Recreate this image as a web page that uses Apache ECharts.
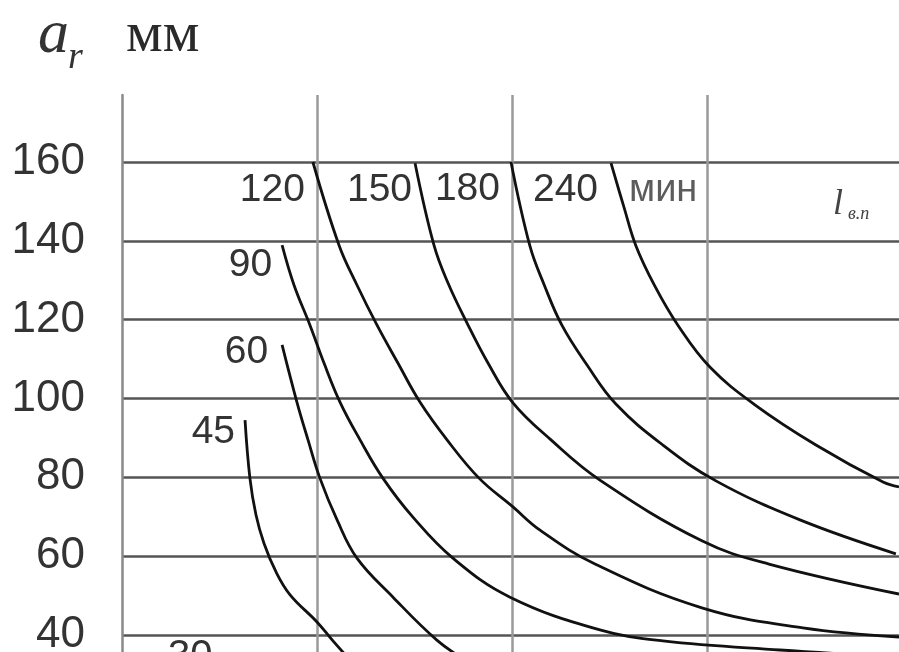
<!DOCTYPE html>
<html>
<head>
<meta charset="utf-8">
<script src="https://cdn.jsdelivr.net/npm/echarts@6/dist/echarts.min.js"></script>
<style>
  html, body { margin: 0; padding: 0; background: #fff; }
  #chart { width: 899px; height: 652px; }
</style>
</head>
<body>
<div id="chart"></div>
<script>
// a_r (mm) against l_в.п, one curve per fire-resistance time (minutes)
const yTicks = [40, 60, 80, 100, 120, 140, 160];
const curveNames = ['45', '60', '90', '120', '150', '180', '240'];
const unitText = 'мин';

const curve45 = [[63.1, 94.5], [65.6, 79.8], [68.7, 70.5], [72.8, 63.3], [79.0, 56.0], [86.2, 50.2], [100.0, 43.3], [108.2, 38.5], [116.9, 33.7]];
const curve60 = [[82.1, 113.6], [89.7, 99.1], [95.4, 89.5], [101.5, 79.8], [110.3, 69.2], [120.5, 59.5], [139.0, 49.6], [161.5, 38.7], [175.9, 33.7]];
const curve90 = [[82.1, 138.9], [88.2, 128.8], [96.4, 118.6], [103.6, 109.0], [111.8, 99.1], [122.1, 89.5], [133.8, 79.8], [149.2, 69.9], [169.7, 59.5], [199.0, 49.6], [245.1, 41.3], [277.4, 38.5], [337.4, 36.2], [398.5, 34.4]];
const curve120 = [[97.9, 160.0], [111.3, 138.9], [120.5, 128.8], [130.8, 118.6], [141.5, 109.0], [152.8, 99.1], [166.7, 89.5], [183.1, 79.8], [200.5, 72.5], [214.4, 66.6], [242.6, 58.0], [297.4, 46.9], [349.2, 41.8], [398.5, 39.5]];
const curve150 = [[150.3, 159.7], [160.0, 138.9], [167.2, 129.3], [176.9, 119.2], [187.7, 109.0], [200.5, 98.9], [220.0, 89.5], [245.1, 79.3], [297.4, 63.9], [331.8, 58.0], [398.5, 50.4]];
const curve180 = [[199.5, 160.0], [209.2, 138.7], [216.4, 129.0], [225.6, 118.6], [238.5, 108.5], [253.3, 98.6], [277.4, 88.2], [304.6, 79.1], [347.7, 69.2], [396.9, 60.6]];
const curve240 = [[250.8, 159.7], [257.4, 148.6], [263.6, 138.7], [273.3, 128.5], [285.1, 118.6], [301.5, 108.0], [324.6, 98.4], [355.9, 88.2], [390.3, 78.8], [398.5, 77.6]];

const curves = [curve45, curve60, curve90, curve120, curve150, curve180, curve240];

// label placement next to the upper end of each curve: [distance, vertical offset]
const labelPlacement = [[10, 12], [14, 7], [10, 20], [8, 28], [3, 27], [11, 27], [13, 27]];

const numFont = '"Liberation Sans", Arial, sans-serif';
const serifFont = '"Liberation Serif", "DejaVu Serif", serif';

const series = curves.map(function (pts, i) {
  const data = pts.map(function (p, j) {
    if (j !== 0) return p;
    return {
      value: p,
      label: {
        show: true,
        formatter: curveNames[i],
        position: 'left',
        distance: labelPlacement[i][0],
        offset: [0, labelPlacement[i][1]],
        fontFamily: numFont,
        fontSize: 39,
        color: '#333'
      }
    };
  });
  return {
    type: 'line',
    name: curveNames[i],
    data: data,
    smooth: 0.4,
    showSymbol: true,
    symbol: 'circle',
    symbolSize: 0,
    silent: true,
    lineStyle: { color: '#111', width: 2.8 },
    label: { show: false },
    emphasis: { disabled: true }
  };
});

// unit caption to the right of the 240-minute curve top
series.push({
  type: 'scatter',
  data: [curve240[0]],
  symbolSize: 0,
  silent: true,
  label: {
    show: true,
    formatter: unitText,
    position: 'right',
    distance: 18,
    offset: [0, 27],
    fontFamily: numFont,
    fontSize: 38,
    color: '#333'
  }
});

const chart = echarts.init(document.getElementById('chart'), null, { renderer: 'canvas' });
chart.setOption({
  animation: false,
  backgroundColor: '#fff',
  grid: { left: 122, top: 95, right: 0, bottom: 0, containLabel: false, outerBoundsMode: 'none' },
  xAxis: {
    type: 'value',
    min: 0,
    max: 398.5,
    interval: 100,
    axisLine: { show: false },
    axisTick: { show: false },
    axisLabel: { show: false },
    splitLine: { show: true, showMinLine: false, showMaxLine: false, lineStyle: { color: '#9a9a9a', width: 2.5 } }
  },
  yAxis: {
    type: 'value',
    min: 35.69,
    max: 177,
    splitNumber: 7,
    minInterval: 20,
    maxInterval: 20,
    axisLine: { show: true, lineStyle: { color: '#8a8a8a', width: 2.5 } },
    axisTick: { show: false },
    axisLabel: {
      show: true,
      showMinLabel: false,
      showMaxLabel: false,
      margin: 37,
      fontFamily: numFont,
      fontSize: 44,
      color: '#333',
      formatter: function (v) { return yTicks.indexOf(v) >= 0 ? String(v) : ''; }
    },
    splitLine: { show: true, showMinLine: false, showMaxLine: false, lineStyle: { color: '#555', width: 2.6 } }
  },
  graphic: [
    { type: 'text', x: 38, y: 36, silent: true,
      style: { text: 'a', font: 'italic 62px ' + serifFont, fill: '#333', verticalAlign: 'middle' } },
    { type: 'text', x: 68, y: 58, silent: true,
      style: { text: 'r', font: 'italic 38px ' + serifFont, fill: '#333', verticalAlign: 'middle' } },
    { type: 'text', x: 126, y: 36, silent: true,
      style: { text: 'мм', font: '58px ' + serifFont, fill: '#2a2a2a', verticalAlign: 'middle' } },
    { type: 'text', x: 833, y: 205, silent: true,
      style: { text: 'l', font: 'italic 36px ' + serifFont, fill: '#444', verticalAlign: 'middle' } },
    { type: 'text', x: 848, y: 214, silent: true,
      style: { text: 'в.п', font: 'italic 18px ' + serifFont, fill: '#444', verticalAlign: 'middle' } },
    { type: 'text', x: 168, y: 637, silent: true,
      style: { text: '30', font: '40px ' + numFont, fill: '#333', verticalAlign: 'top' } }
  ],
  series: series
});
</script>
</body>
</html>
